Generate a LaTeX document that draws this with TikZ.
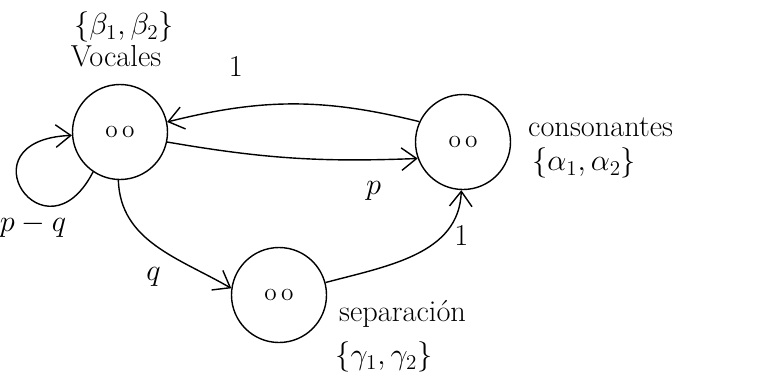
\documentclass[tikz,border=0pt]{standalone}
\usepackage{amsmath}
\usetikzlibrary{arrows.meta}
\tikzset{
  state/.style = {circle, draw, thick, minimum size=19mm, inner sep=0pt, font=\Large},
  conn/.style  = {-{Straight Barb[length=3mm, width=4.5mm]}, thick},
  lab/.style   = {font=\LARGE},
}
\begin{document}
\begin{tikzpicture}[x=0.2mm, y=-0.2mm]
    \useasboundingbox (0,0) rectangle (775,387);

    % states
    \node[state] (voc)  at (120,132) {o\,o};
    \node[state] (cons) at (463,142) {o\,o};
    \node[state] (sep)  at (279,295) {o\,o};

    % state names and alphabets
    \node[lab] (vocset)   at (124,27)  {$\{\beta_1,\beta_2\}$};
    \node[lab] (vocname)  at (116,56)  {Vocales};
    \node[lab, anchor=west] (consname) at (522,127) {consonantes};
    \node[lab, anchor=west] (consset)  at (526,163) {$\{\alpha_1,\alpha_2\}$};
    \node[lab, anchor=west] (sepname)  at (333,314) {separaci\'on};
    \node[lab] (sepset)   at (384,357) {$\{\gamma_1,\gamma_2\}$};

    % transitions
    \draw[conn] (cons.155) to[bend right=14]
      node[lab, pos=0.74, above=5mm] (one) {1} (voc.12);
    \draw[conn] (voc.-12) to[bend right=6]
      node[lab, pos=0.84, below=3mm] (p) {$p$} (cons.200);
    \draw[conn] (voc.236) .. controls (45,265) and (-40,140) .. (voc.184);
    \node[lab] (pq) at (33,226) {$p-q$};
    \draw[conn] (voc.268) to[out=-88, in=150]
      node[lab, pos=0.62, below left=1mm] (q) {$q$} (sep.172);
    \draw[conn] (sep.15) to[out=15, in=-92]
      node[lab, pos=0.7, right=1mm] (one2) {1} (cons.268);
\end{tikzpicture}
\end{document}
